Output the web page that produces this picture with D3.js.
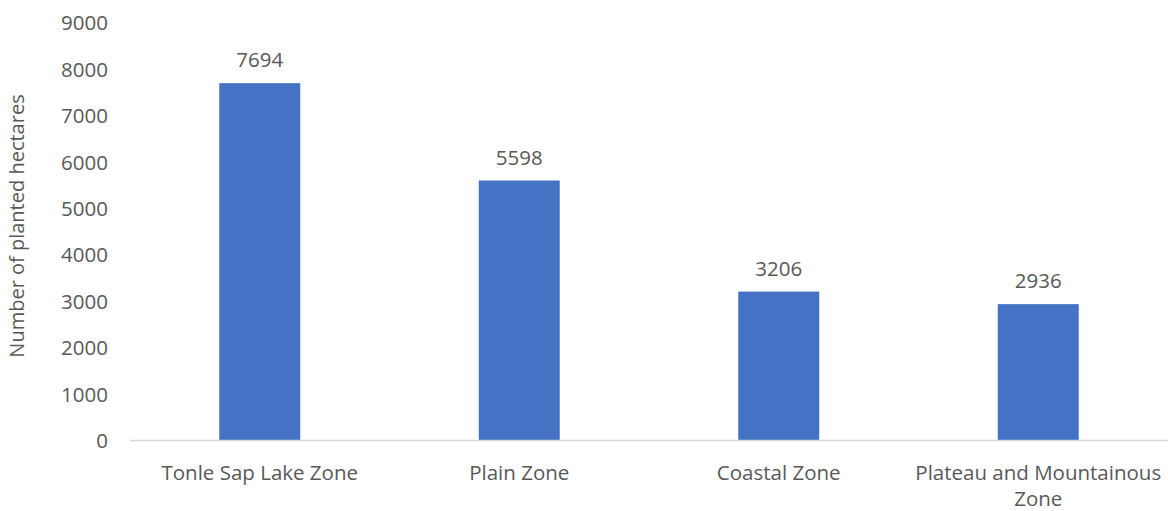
<!DOCTYPE html>
<html><head><meta charset="utf-8">
<script src="https://cdn.jsdelivr.net/npm/d3@7"></script>
<style>body{margin:0;background:#fff}text{font-family:"Open Sans",sans-serif;fill:#595959}</style>
</head><body>
<svg id="c" width="1168" height="511"></svg>
<script>
const categories = ["Tonle Sap Lake Zone", "Plain Zone", "Coastal Zone", "Plateau and Mountainous Zone"];
const values = [7694, 5598, 3206, 2936];
const yTicks = [0,1000,2000,3000,4000,5000,6000,7000,8000,9000];
const yTitle = "Number of planted hectares";

const svg = d3.select("#c");
const x = d3.scaleBand().domain(categories).range([130, 1168]).paddingInner(0.688).paddingOuter(0.344);
const y = d3.scaleLinear().domain([0, 9000]).range([440.5, 22.5]);

svg.append("g").selectAll("rect").data(values).join("rect")
  .attr("x", (d,i)=>x(categories[i])).attr("width", x.bandwidth())
  .attr("y", d=>y(d)).attr("height", d=>y(0)-y(d)).attr("fill", "#4472C4");

svg.append("line").attr("x1",130).attr("x2",1168).attr("y1",y(0)).attr("y2",y(0))
  .attr("stroke","#d9d9d9").attr("stroke-width",1.5);

const ya = d3.axisLeft(y).tickValues(yTicks).tickFormat(d3.format("d")).tickSize(0).tickPadding(0);
const gy = svg.append("g").attr("transform","translate(108,0)").call(ya);
gy.select(".domain").remove();
gy.selectAll("text").style("font-size","20.5px").style("font-family","'Open Sans',sans-serif").attr("fill","#595959").attr("dy","0.35em");

svg.append("g").selectAll("text").data(values).join("text")
  .attr("x",(d,i)=>x(categories[i])+x.bandwidth()/2).attr("y",d=>y(d)-23).attr("dy","0.35em")
  .attr("text-anchor","middle").style("font-size","20.5px").text(d=>d);

const xa = svg.append("g").selectAll("text").data(categories).join("text")
  .attr("x",d=>x(d)+x.bandwidth()/2).attr("y",473)
  .attr("text-anchor","middle").style("font-size","20.5px");
xa.each(function(d){
  const t = d3.select(this);
  const lines = d==="Plateau and Mountainous Zone" ? ["Plateau and Mountainous","Zone"] : [d];
  lines.forEach((l,i)=>t.append("tspan").attr("x",x(d)+x.bandwidth()/2).attr("dy", i===0?"0.35em":"26px").text(l));
});

svg.append("text").attr("transform","translate(17,226) rotate(-90)").attr("dy","0.35em")
  .attr("text-anchor","middle").style("font-size","20px").text(yTitle);
</script>
</body></html>
